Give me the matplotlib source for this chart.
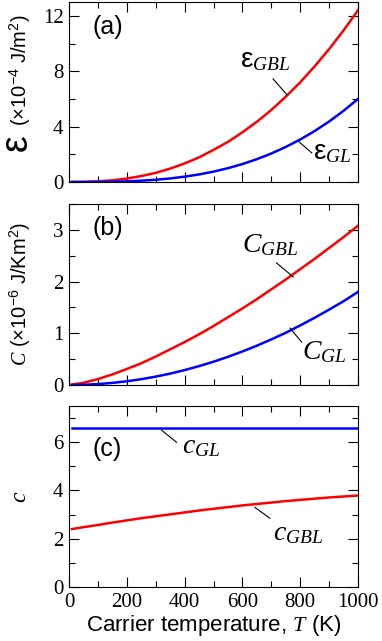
import matplotlib
matplotlib.use("Agg")
import matplotlib.pyplot as plt
from matplotlib.ticker import MultipleLocator

SERIF = 'Liberation Serif'
SANS = 'Liberation Sans'
plt.rcParams['font.family'] = SERIF
plt.rcParams['mathtext.fontset'] = 'custom'
plt.rcParams['mathtext.rm'] = SANS
plt.rcParams['mathtext.it'] = 'Liberation Serif:italic'
plt.rcParams['mathtext.bf'] = 'Liberation Sans:bold'

# carrier temperature (K)
T = [10, 50, 100, 150, 200, 250, 300, 350, 400, 450, 500,
     550, 600, 650, 700, 750, 800, 850, 900, 950, 1000]

# (a) energy density, x1e-4 J/m^2
eps_gbl = [0.0, 0.01, 0.05, 0.12, 0.25, 0.43, 0.66, 0.97, 1.34, 1.78, 2.32,
           2.90, 3.59, 4.35, 5.2, 6.16, 7.2, 8.35, 9.6, 10.95, 12.4]
eps_gl = [0.0, 0.001, 0.006, 0.02, 0.048, 0.094, 0.162, 0.257, 0.384, 0.547, 0.75,
          0.998, 1.296, 1.648, 2.058, 2.53, 3.07, 3.68, 4.37, 5.14, 6.0]

# (b) heat capacity, x1e-6 J/Km^2
C_gbl = [0.01, 0.042, 0.115, 0.205, 0.31, 0.42, 0.55, 0.69, 0.83, 0.98, 1.14,
         1.31, 1.48, 1.66, 1.85, 2.04, 2.24, 2.44, 2.65, 2.86, 3.08]
C_gl = [0.0, 0.0045, 0.018, 0.0405, 0.072, 0.1125, 0.162, 0.22, 0.288, 0.365, 0.45,
        0.545, 0.648, 0.76, 0.882, 1.01, 1.152, 1.30, 1.458, 1.62, 1.8]

# (c) dimensionless c
c_gbl = [2.4, 2.48, 2.57, 2.67, 2.76, 2.85, 2.93, 3.01, 3.09, 3.17, 3.24,
         3.31, 3.38, 3.44, 3.5, 3.56, 3.61, 3.66, 3.71, 3.75, 3.79]
c_gl = [6.57] * len(T)

x_ticks = [0, 200, 400, 600, 800, 1000]
ya_ticks = [0, 4, 8, 12]
yb_ticks = [0, 1, 2, 3]
yc_ticks = [0, 2, 4, 6]

fig = plt.figure(figsize=(3.82, 6.41), dpi=100)
L, W = 69 / 382, 289 / 382
ax1 = fig.add_axes([L, 1 - 182 / 641, W, 180 / 641])
ax2 = fig.add_axes([L, 1 - 385 / 641, W, 181 / 641])
ax3 = fig.add_axes([L, 1 - 587 / 641, W, 181 / 641])

lw = 1.8
ax1.plot(T, eps_gbl, color='red', lw=lw)
ax1.plot(T, eps_gl, color='blue', lw=lw)
ax2.plot(T, C_gbl, color='red', lw=lw)
ax2.plot(T, C_gl, color='blue', lw=lw)
ax3.plot(T, c_gl, color='blue', lw=lw)
ax3.plot(T, c_gbl, color='red', lw=lw)

for ax, ymax, yt in [(ax1, 13, ya_ticks), (ax2, 3.5, yb_ticks), (ax3, 7.5, yc_ticks)]:
    ax.set_xlim(0, 1000)
    ax.set_ylim(0, ymax)
    ax.set_xticks(x_ticks)
    ax.set_yticks(yt)
    ax.set_xticklabels([str(v) for v in x_ticks], family=SERIF, fontsize=15)
    ax.set_yticklabels([str(v) for v in yt], family=SERIF, fontsize=15)
    ax.xaxis.set_minor_locator(MultipleLocator(100))
    ax.yaxis.set_minor_locator(MultipleLocator((yt[1] - yt[0]) / 2))
    ax.tick_params(which='both', direction='in', top=True, right=True, width=0.8)
    ax.tick_params(which='major', length=7, pad=4)
    ax.tick_params(which='minor', length=4)
    for s in ax.spines.values():
        s.set_linewidth(0.8)

ax1.tick_params(labelbottom=False)
ax2.tick_params(labelbottom=False)

# panel tags
ax1.text(83, 11.2, '(a)', fontsize=18, va='center', family=SANS)
ax2.text(83, 3.04, '(b)', fontsize=18, va='center', family=SANS)
ax3.text(83, 5.73, '(c)', fontsize=18, va='center', family=SANS)

# curve labels with leader lines
fs = 20
ax1.text(592, 8.8, r'$\mathrm{ε}_{GBL}$', fontsize=fs, va='center')
ax1.plot([706, 754], [7.45, 6.3], color='black', lw=0.8)
ax1.text(845, 2.1, r'$\mathrm{ε}_{GL}$', fontsize=fs, va='center')
ax1.plot([796, 840], [2.9, 2.1], color='black', lw=0.8)

ax2.text(598, 2.7, r'$C_{GBL}$', fontsize=fs, va='center')
ax2.plot([718, 776], [2.36, 2.09], color='black', lw=0.8)
ax2.text(805, 0.64, r'$C_{GL}$', fontsize=fs, va='center')
ax2.plot([765, 805], [1.1, 0.83], color='black', lw=0.8)

ax3.text(390, 5.8, r'$c_{GL}$', fontsize=fs, va='center')
ax3.plot([320, 372], [6.5, 6.0], color='black', lw=0.8)
ax3.text(707, 2.2, r'$c_{GBL}$', fontsize=fs, va='center')
ax3.plot([643, 695], [3.3, 2.85], color='black', lw=0.8)

# axis labels
ax1.set_ylabel(r'(×10$^{-4}$ J/m$^{2}$)', fontsize=14.5, family=SANS)
ax1.yaxis.set_label_coords(-0.125, 0.62)
fig.text(17 / 382, 1 - 143 / 641, 'ε', fontsize=27, rotation=90,
         ha='center', va='center', family=SANS)
ax2.set_ylabel(r'$C$ (×10$^{-6}$ J/Km$^{2}$)', fontsize=14.5, family=SANS)
ax2.yaxis.set_label_coords(-0.125, 0.5)
ax3.set_ylabel(r'$c$', fontsize=17)
ax3.yaxis.set_label_coords(-0.13, 0.5)
ax3.set_xlabel(r'Carrier temperature, $T$ (K)', fontsize=16, labelpad=1,
               family=SANS)

fig.savefig('out.png', dpi=100)
